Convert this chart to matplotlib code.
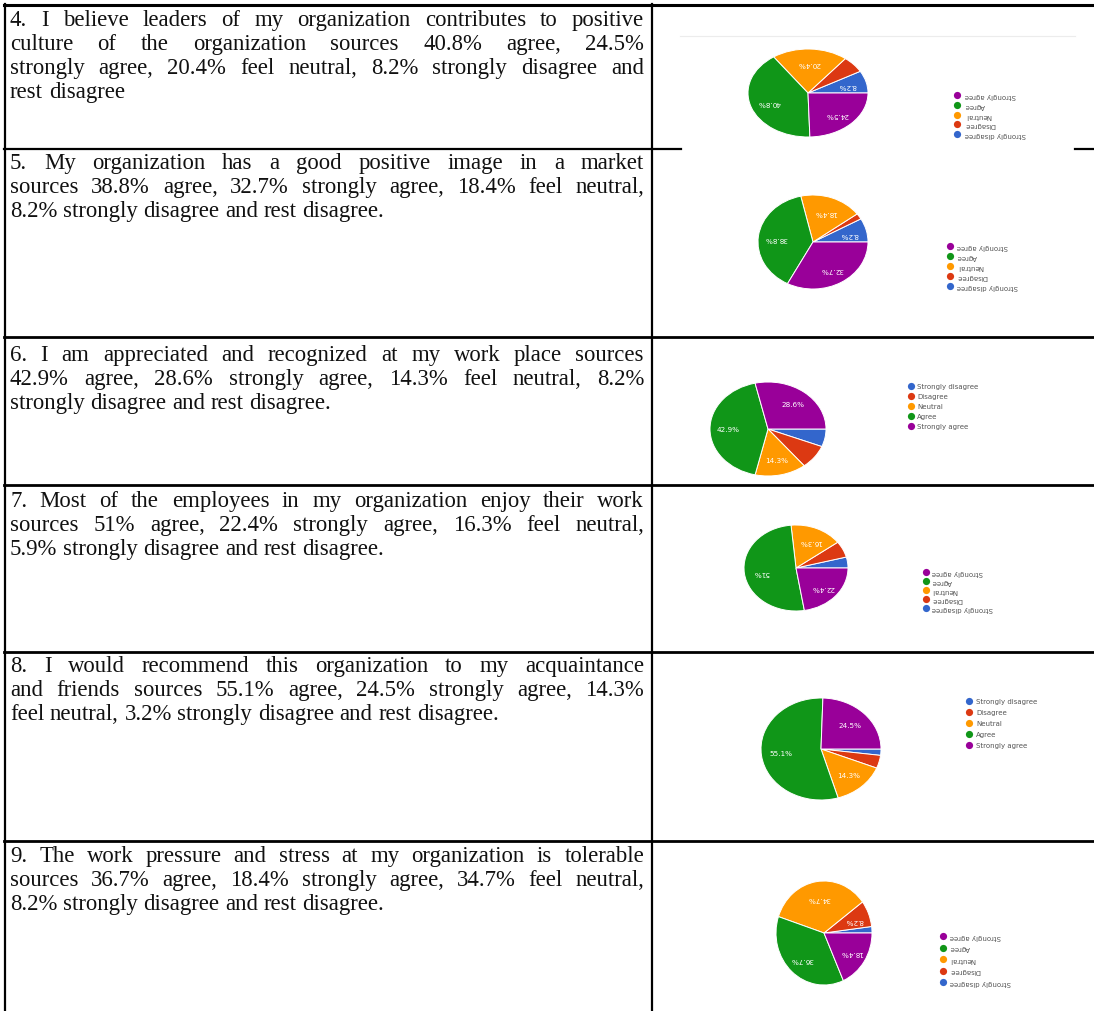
import matplotlib
matplotlib.use('Agg')
import matplotlib.pyplot as plt
import numpy as np

W, H = 1094, 1012

categories = ['Strongly disagree', 'Disagree', 'Neutral', 'Agree', 'Strongly agree']
colors = ['#3366cc', '#dc3912', '#ff9900', '#109618', '#990099']

# shares per question, in category order
q4 = [8.2, 6.1, 20.4, 40.8, 24.5]
q5 = [8.2, 2.0, 18.4, 38.8, 32.7]
q6 = [6.1, 8.2, 14.3, 42.9, 28.6]
q7 = [4.1, 6.1, 16.3, 51.0, 22.4]
q8 = [2.0, 4.1, 14.3, 55.1, 24.5]
q9 = [2.0, 8.2, 34.7, 36.7, 18.4]

# which slices carry a percentage label
q4_lab = [True, False, True, True, True]
q5_lab = [True, False, True, True, True]
q6_lab = [False, False, True, True, True]
q7_lab = [False, False, True, True, True]
q8_lab = [False, False, True, True, True]
q9_lab = [False, True, True, True, True]

q4_text = [("4. I believe leaders of my organization contributes to positive", True),
           ("culture of the organization sources 40.8% agree, 24.5%", True),
           ("strongly agree, 20.4% feel neutral, 8.2% strongly disagree and", True),
           ("rest disagree", False)]
q5_text = [("5. My organization has a good positive image in a market", True),
           ("sources 38.8% agree, 32.7% strongly agree, 18.4% feel neutral,", True),
           ("8.2% strongly disagree and rest disagree.", False)]
q6_text = [("6. I am appreciated and recognized at my work place sources", True),
           ("42.9% agree, 28.6% strongly agree, 14.3% feel neutral, 8.2%", True),
           ("strongly disagree and rest disagree.", False)]
q7_text = [("7. Most of the employees in my organization enjoy their work", True),
           ("sources 51% agree, 22.4% strongly agree, 16.3% feel neutral,", True),
           ("5.9% strongly disagree and rest disagree.", False)]
q8_text = [("8. I would recommend this organization to my acquaintance", True),
           ("and friends sources 55.1% agree, 24.5% strongly agree, 14.3%", True),
           ("feel neutral, 3.2% strongly disagree and rest disagree.", False)]
q9_text = [("9. The work pressure and stress at my organization is tolerable", True),
           ("sources 36.7% agree, 18.4% strongly agree, 34.7% feel neutral,", True),
           ("8.2% strongly disagree and rest disagree.", False)]

fig = plt.figure(figsize=(W / 100, H / 100), dpi=100)
bg = fig.add_axes([0, 0, 1, 1])
bg.set_xlim(0, W)
bg.set_ylim(H, 0)
bg.axis('off')

# table rules
lw = 1.6
row_tops = [6, 150, 338, 486, 653, 842]
bg.plot([4, W], [6, 6], color='black', lw=2.2)
bg.plot([4, 681], [150, 150], color='black', lw=lw)
bg.plot([1075, W], [150, 150], color='black', lw=lw)
for y in row_tops[2:]:
    bg.plot([4, W], [y, y], color='black', lw=2.0)
bg.plot([5, 5], [5, H], color='black', lw=lw)
bg.plot([652, 652], [5, H], color='black', lw=lw)
bg.plot([680, 1075], [37, 37], color='#ececec', lw=0.8)

# left column text, justified like the source document
renderer = fig.canvas.get_renderer()
fs = 16.4
x_left, x_right = 10, 644


def put_lines(lines, y0):
    for i, (line, justify) in enumerate(lines):
        y = y0 + 24 * i
        words = line.split(' ')
        ts = [bg.text(0, y, w, fontsize=fs, family='Liberation Serif',
                      va='baseline', ha='left', color='#111111') for w in words]
        widths = [t.get_window_extent(renderer).width for t in ts]
        space = fs * 100 / 72 * 0.25
        if justify and len(words) > 1:
            gap = (x_right - x_left - sum(widths)) / (len(words) - 1)
        else:
            gap = space
        x = x_left
        for t, w in zip(ts, widths):
            t.set_x(x)
            x += w + gap


put_lines(q4_text, 26)
put_lines(q5_text, 169)
put_lines(q6_text, 361)
put_lines(q7_text, 507)
put_lines(q8_text, 672)
put_lines(q9_text, 862)


def fmt_pct(v):
    s = '%.1f' % v
    if s.endswith('.0'):
        s = s[:-2]
    return s + '%'


def draw_pie(vals, lab, cx, cy, rx, ry, flipped, mx, my0, mdy, tx):
    ax = fig.add_axes([(cx - rx) / W, 1 - (cy + ry) / H, 2 * rx / W, 2 * ry / H])
    wedges, _ = ax.pie(vals, colors=colors, startangle=0, counterclock=flipped,
                       radius=1, wedgeprops=dict(edgecolor='white', linewidth=0.7))
    ax.set_aspect('auto')
    ax.set_xlim(-1, 1)
    ax.set_ylim(-1, 1)
    ax.axis('off')
    for w, v, show in zip(wedges, vals, lab):
        if not show:
            continue
        ang = np.deg2rad((w.theta1 + w.theta2) / 2)
        ax.text(0.68 * np.cos(ang), 0.68 * np.sin(ang), fmt_pct(v),
                ha='center', va='center', fontsize=5.2, color='white',
                rotation=180 if flipped else 0, family='DejaVu Sans')
    order = list(range(5))
    if flipped:
        order = order[::-1]
    for k, i in enumerate(order):
        y = my0 + mdy * k
        bg.plot([mx], [y], 'o', color=colors[i], ms=5.2, mec='none')
        if flipped:
            bg.text(tx, y, categories[i], fontsize=5.0, color='#555555', ha='right',
                    va='center', rotation=180, rotation_mode='anchor')
        else:
            bg.text(tx, y, categories[i], fontsize=5.0, color='#555555', ha='left',
                    va='center')


draw_pie(q4, q4_lab, 808, 94, 60, 44, True, 957, 96, 9.8, 965)
draw_pie(q5, q5_lab, 813, 243, 55, 47, True, 950, 247, 10, 957)
draw_pie(q6, q6_lab, 768, 430, 58, 47, False, 911, 387, 10, 917)
draw_pie(q7, q7_lab, 796, 569, 52, 43, True, 926, 573, 9, 932)
draw_pie(q8, q8_lab, 821, 750, 60, 51, False, 969, 702, 11, 976)
draw_pie(q9, q9_lab, 824, 934, 48, 52, True, 943, 937, 11.5, 950)

fig.savefig('out.png', dpi=100, facecolor='white')
